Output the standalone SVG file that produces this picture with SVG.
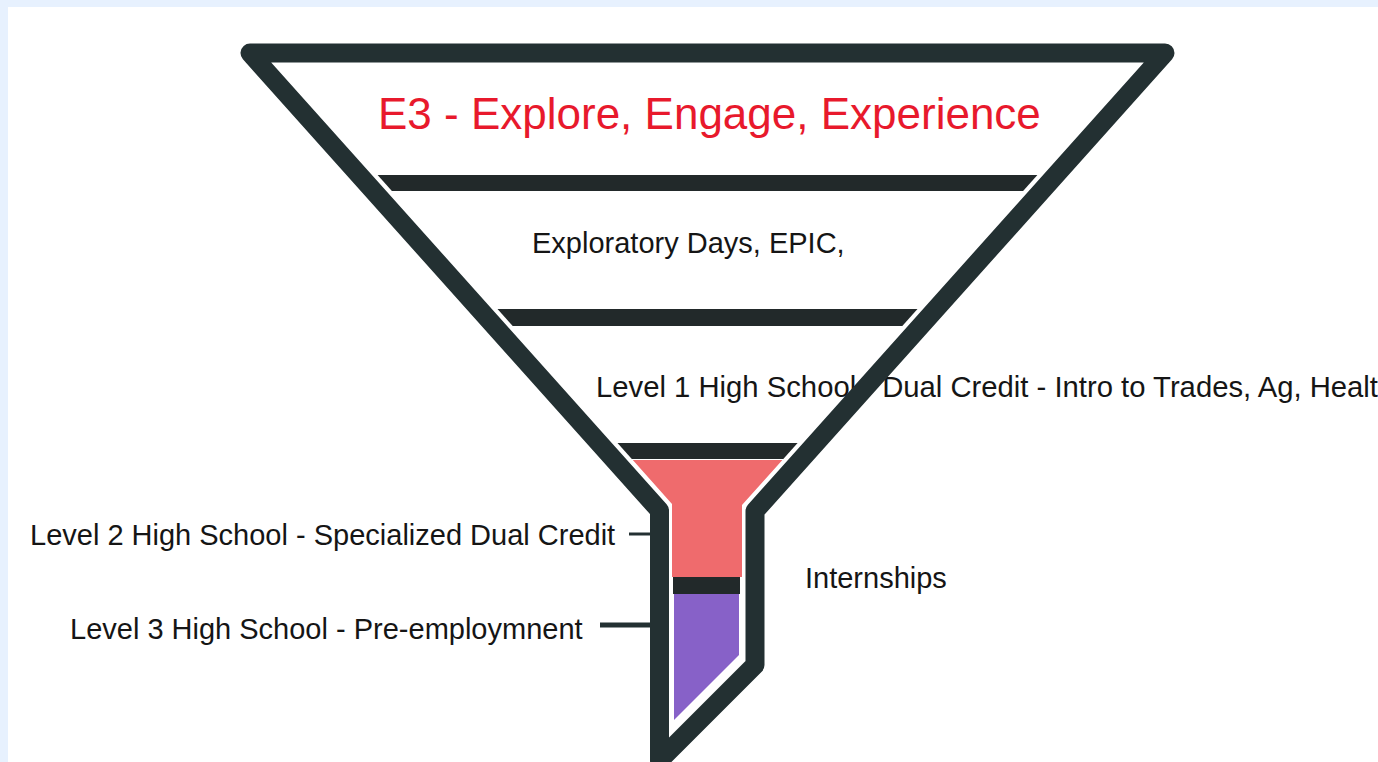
<svg xmlns="http://www.w3.org/2000/svg" width="1378" height="762" viewBox="0 0 1378 762">
  <style>
    .label { font-family: "Liberation Sans", Arial, sans-serif; font-size: 29px; fill: #151515; }
    .title { font-family: "Liberation Sans", Arial, sans-serif; font-size: 44px; fill: #e8192c; }
    .outline { fill: none; stroke: #233032; stroke-width: 19; stroke-linejoin: round; }
    .bar { fill: #22292a; }
    .leader { stroke: #233032; fill: none; }
  </style>

  <!-- page -->
  <rect x="0" y="0" width="1378" height="762" fill="#e7f1fe"/>
  <rect x="8" y="7" width="1370" height="755" fill="#ffffff"/>

  <!-- stage labels (drawn under the funnel outline) -->
  <g id="title">
    <text class="title" x="378" y="129">E3 - Explore, Engage, Experience</text>
  </g>
  <g id="stage-exploratory">
    <text class="label" x="532" y="253">Exploratory Days, EPIC,</text>
  </g>
  <g id="stage-level1">
    <text class="label" x="596" y="397" textLength="782" lengthAdjust="spacingAndGlyphs">Level 1 High School - Dual Credit - Intro to Trades, Ag, Healt</text>
  </g>
  <g id="stage-level2">
    <text class="label" x="30" y="545">Level 2 High School - Specialized Dual Credit</text>
  </g>
  <g id="stage-internships">
    <text class="label" x="805" y="588">Internships</text>
  </g>
  <g id="stage-level3">
    <text class="label" x="70" y="639">Level 3 High School - Pre-employmnent</text>
  </g>

  <!-- funnel body -->
  <g id="funnel">
    <!-- divider bars -->
    <polygon class="bar" points="377.6,175 1037.4,175 1023.1,191 391.9,191"/>
    <polygon class="bar" points="497.5,309 917.5,309 902.3,326 512.7,326"/>
    <!-- neck fills -->
    <polygon class="bar" points="617.5,443 797.6,443 783.3,459 631.8,459"/>
    <polygon fill="#ef6b6d" points="632.8,460 782.4,460 742,505 742,577 672,577 672,504"/>
    <rect class="bar" x="673" y="577" width="67" height="17"/>
    <polygon fill="#8761c8" points="674,594 739,594 739,655 674,720"/>
    <!-- outline -->
    <path class="outline" d="M250,53 H1165 L755,511 V665 L659.5,760.5 V510.5 Z"/>
  </g>

  <!-- leaders from side labels to the funnel -->
  <g id="connectors">
    <line class="leader" x1="629" y1="534" x2="650" y2="534" stroke-width="3"/>
    <line class="leader" x1="600" y1="625" x2="650" y2="625" stroke-width="5"/>
  </g>
</svg>
